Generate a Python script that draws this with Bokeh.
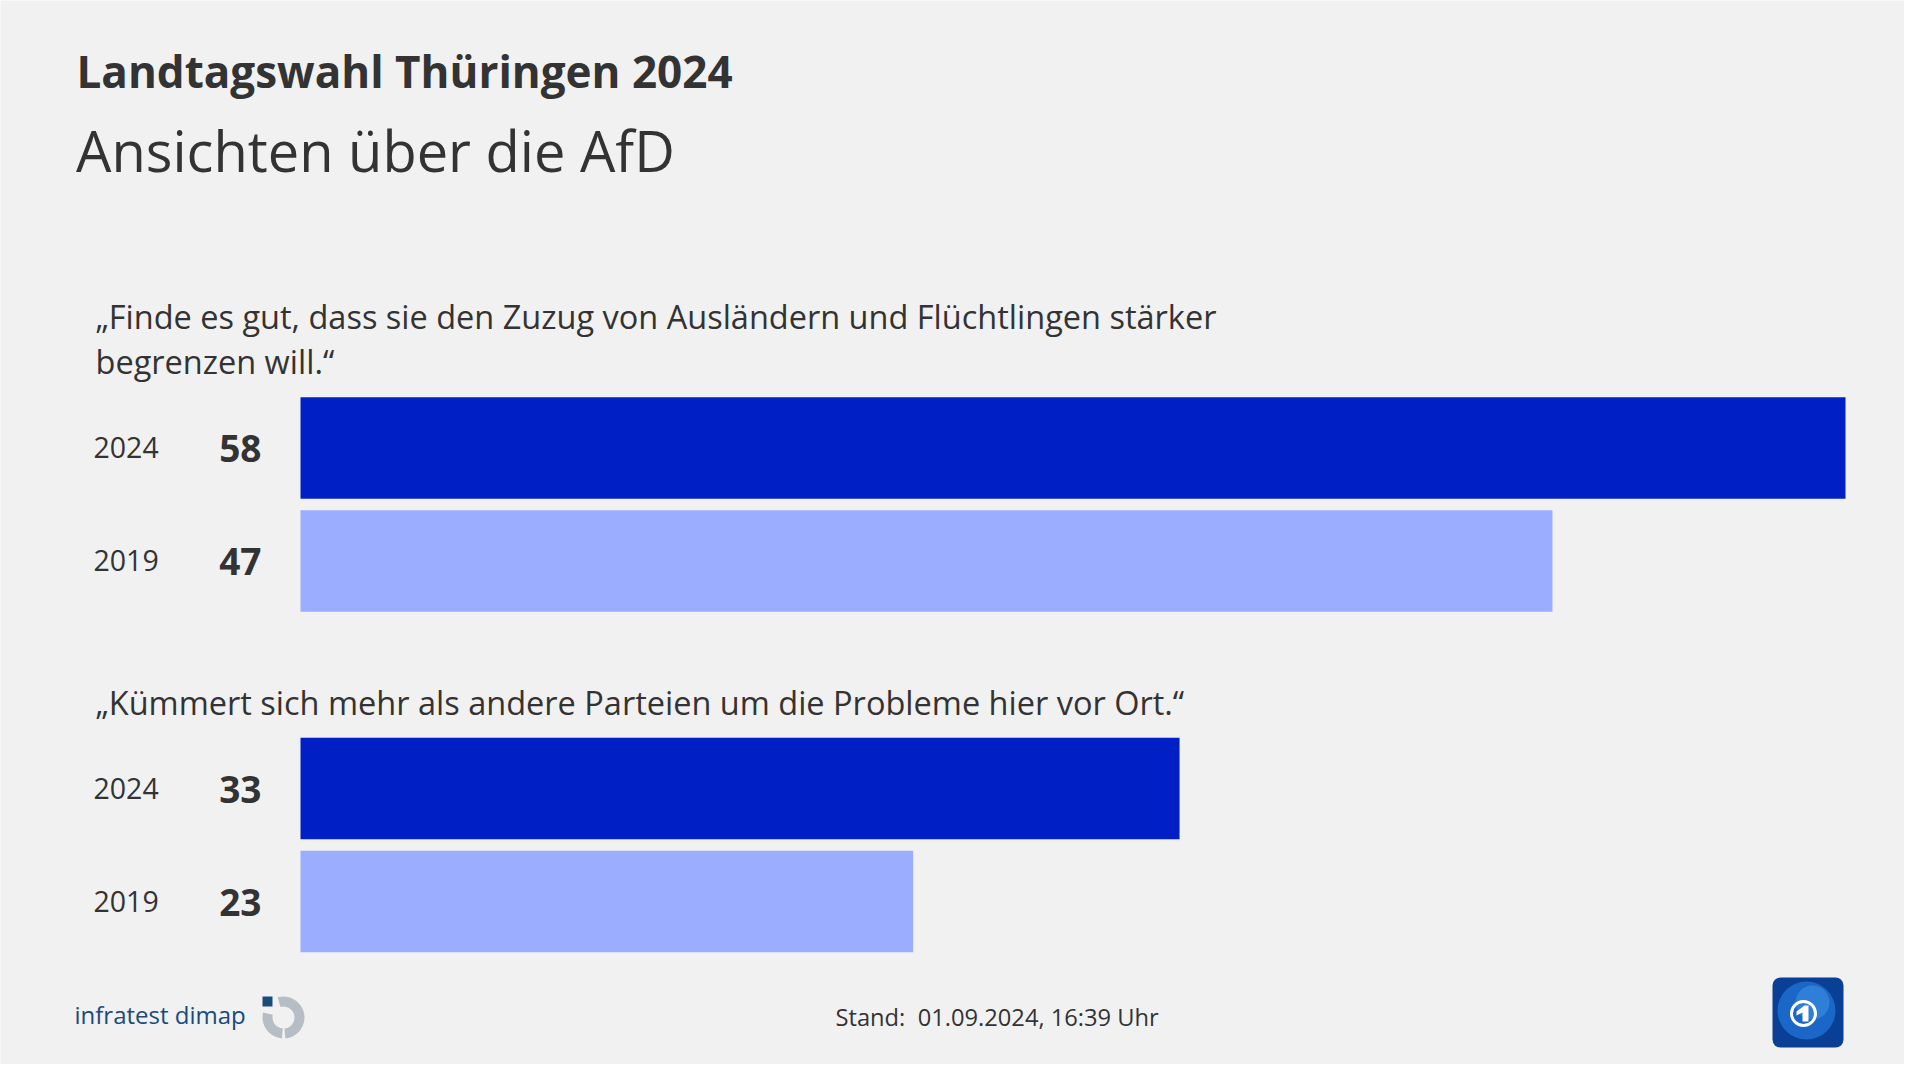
from bokeh.plotting import figure
from bokeh.models import Range1d, Label, BoxAnnotation
from bokeh.embed import file_html
from bokeh.resources import INLINE

# ---------------- data ----------------
title = "Landtagswahl Thüringen 2024"
subtitle = "Ansichten über die AfD"
question_lines = [
    ["„Finde es gut, dass sie den Zuzug von Ausländern und Flüchtlingen stärker",
     "begrenzen will.“"],
    ["„Kümmert sich mehr als andere Parteien um die Probleme hier vor Ort.“"],
]
years = ["2024", "2019"]
values_2024 = [58, 33]
values_2019 = [47, 23]
source_text = "infratest dimap"
stand_text = "Stand:\u00a0 01.09.2024, 16:39 Uhr"

# ---------------- style / layout ----------------
W, H = 1904, 1064
BG = "#f1f1f1"
TXT = "#333333"
DARK = "#0020c6"
LIGHT = "#9badff"
FONT = "Open Sans"
BAR_LEFT = 300            # px where value 0 sits
PX_PER_UNIT = 1545 / 58   # px per percentage point
FIRST_CENTER = 447.5
ROW_PITCH = 113
GROUP_PITCH = 340.5
BAR_H = 101.5
SHIFT = 0.37              # baseline compensation (em)

p = figure(width=W, height=H, output_backend="svg", toolbar_location=None,
           x_range=Range1d(-BAR_LEFT / PX_PER_UNIT, (W - BAR_LEFT) / PX_PER_UNIT),
           y_range=Range1d(H, 0),
           x_axis_location=None, y_axis_location=None,
           min_border=0, outline_line_color=None,
           background_fill_color=BG, border_fill_color=BG)
p.extra_x_ranges = {"px": Range1d(0, W)}
p.xgrid.grid_line_color = None
p.ygrid.grid_line_color = None


def lab(x, baseline, text, size, bold=False, color=TXT, align="left"):
    p.add_layout(Label(x=x, y=baseline - SHIFT * size, x_range_name="px", text=text,
                       text_font=FONT, text_font_size=f"{size}px",
                       text_font_style="bold" if bold else "normal",
                       text_color=color, text_align=align,
                       text_baseline="alphabetic"))


# titles
lab(76, 86.5, title, 44, bold=True)
lab(75.5, 170, subtitle, 56)

series = [values_2024, values_2019]
colors = [DARK, LIGHT]
for gi, lines in enumerate(question_lines):
    top = FIRST_CENTER + gi * GROUP_PITCH - BAR_H / 2
    n = len(lines)
    for li, line in enumerate(lines):
        lab(95, top - 23.5 - (n - 1 - li) * 45, line, 32.5)
    for ri, yr in enumerate(years):
        yc = FIRST_CENTER + gi * GROUP_PITCH + ri * ROW_PITCH
        val = series[ri][gi]
        p.hbar(y=[yc], left=[0], right=[val], height=BAR_H,
               fill_color=colors[ri], line_color=None)
        lab(93, yc + 10.5, yr, 28.5)
        lab(261, yc + 14.5, str(val), 37, bold=True, align="right")

# footer
lab(74, 1023, source_text, 24, color="#1b4a7c")
lab(835, 1025.5, stand_text, 23.7)

# infratest dimap mark
p.annular_wedge(x=[283], y=[1017], inner_radius=11, outer_radius=21,
                start_angle=[2.9], end_angle=[4.64], x_range_name="px",
                fill_color="#b6bdc5", line_color=None)
p.annular_wedge(x=[283], y=[1017], inner_radius=11, outer_radius=21,
                start_angle=[4.80], end_angle=[1.85], x_range_name="px",
                fill_color="#b6bdc5", line_color=None)
p.quad(left=[262], right=[272], top=[996], bottom=[1006], x_range_name="px",
       fill_color="#1b4a7c", line_color=None)

# ARD / tagesschau mark
p.add_layout(BoxAnnotation(left=1772, right=1843, top=977, bottom=1047,
                           x_range_name="px", border_radius=8,
                           fill_color="#0a3f96", fill_alpha=1,
                           line_color=None, level="underlay"))
p.circle(x=[1806], y=[1010], radius=29, x_range_name="px",
         fill_color="#1f6fd0", fill_alpha=0.85, line_color=None)
p.circle(x=[1812], y=[1002], radius=17, x_range_name="px",
         fill_color="#4a9bea", fill_alpha=0.45, line_color=None)
cx, cy = 1803, 1013
p.circle(x=[cx], y=[cy], radius=12, x_range_name="px",
         fill_color=None, line_color="white", line_width=3)
p.patch(x=[cx - 7, cx + 1, cx + 5, cx + 5, cx - 1, cx - 1, cx - 7],
        y=[cy - 2, cy - 8, cy - 8, cy + 8, cy + 8, cy - 1, cy + 2],
        x_range_name="px", fill_color="white", line_color=None)

open("out.html", "w").write(file_html(p, INLINE))
